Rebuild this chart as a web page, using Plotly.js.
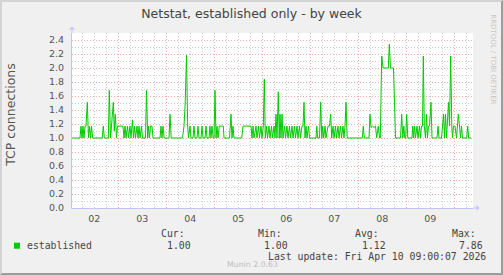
<!DOCTYPE html>
<html>
<head>
<meta charset="utf-8">
<script src="https://cdn.plot.ly/plotly-3.0.1.min.js"></script>
<style>
  html, body { margin: 0; padding: 0; background: #f0f0f0; }
  #wrap { width: 503px; height: 275px; box-sizing: border-box; border: 2px solid; border-color: #d4d4d4 #9c9c9c #9c9c9c #d4d4d4; background: #f0f0f0; }
  #chart { width: 499px; height: 271px; }
</style>
</head>
<body>
<div id="wrap"><div id="chart"></div></div>
<script>
// Hours since Apr 2 00:00 and established TCP connections
const hours = [
  1.0, 4.85, 5.35, 5.85, 6.35, 6.85, 7.35, 7.85, 8.5, 9.1, 9.6, 10.1, 10.6, 11.2,
  16.0, 16.5, 17.0, 19.0, 19.5, 20.1, 20.6, 21.5, 22.0, 22.5, 23.1, 23.6, 26.35,
  26.85, 27.35, 27.85, 28.6, 29.1, 29.85, 30.35, 31.1, 31.6, 32.1, 32.6, 33.35, 33.85,
  34.35, 34.85, 35.6, 36.1, 37.6, 38.1, 38.7, 39.1, 39.6, 40.1, 40.85, 41.35,
  44.85, 45.35, 45.85, 46.35, 46.95, 49.35, 49.85, 50.45, 56.1, 56.85, 57.45, 58.1,
  58.7, 59.1, 59.85, 60.35, 61.35, 61.85, 62.35, 63.35, 63.85, 64.35, 65.35, 65.85,
  66.35, 67.35, 67.85, 68.35, 69.35, 69.85, 70.35, 70.85, 71.45, 71.85, 72.35, 72.85,
  73.35, 73.85, 74.5, 76.5, 76.85, 79.6, 80.35, 80.85, 81.35, 81.85, 85.7, 86.35,
  90.35, 90.85, 91.35, 91.85, 92.85, 93.35, 94.1, 94.6, 95.35, 95.85, 96.5, 97.0,
  97.5, 98.1, 98.6, 99.35, 99.85, 100.6, 101.1, 101.85, 102.35, 102.85, 103.35, 104.0,
  104.45, 104.85, 105.35, 105.85, 106.35, 107.1, 107.6, 108.35, 108.85, 109.6, 110.1,
  110.85, 111.35, 112.1, 112.6, 113.35, 113.85, 114.6, 115.1, 115.85, 116.35, 116.85,
  117.35, 117.85, 118.35, 119.1, 119.6, 122.85, 123.25, 123.65, 124.6, 125.2, 125.75,
  126.2, 126.7, 127.35, 127.85, 128.85, 129.6, 130.2, 130.7, 131.35, 131.85, 132.6,
  133.1, 133.85, 134.35, 135.1, 135.6, 136.35, 136.85, 137.35, 137.85, 138.45, 146.0,
  146.5, 147.0, 149.35, 149.85, 150.35, 151.1, 151.85, 152.6, 153.2, 154.0, 154.6,
  155.0, 155.7, 156.35, 159.0, 159.5, 160.1, 161.6, 162.6, 165.1, 165.7, 166.25,
  166.75, 167.25, 167.7, 168.2, 168.75, 170.85, 171.25, 171.65, 172.1, 172.6, 173.35,
  173.85, 174.6, 175.1, 175.6, 176.1, 176.5, 177.0, 177.6, 178.1, 178.6, 179.1, 179.6,
  180.35, 180.85, 183.35, 183.85, 184.35, 185.6, 186.1, 186.6, 187.1, 187.6, 188.1,
  188.6, 189.1, 189.6, 190.2, 190.75, 191.1, 191.6, 192.35, 193.1, 193.5, 194.0, 194.6,
  195.1, 195.6, 196.1, 198.2, 198.7, 199.2, 200.35
];
const conns = [
  1.0, 1.0, 1.17, 1.0, 1.17, 1.0, 1.17, 1.17, 1.51, 1.0, 1.17, 1.0, 1.17, 1.0,
  1.0, 1.17, 1.0, 1.0, 1.68, 1.0, 1.17, 1.51, 1.1, 1.34, 1.0, 1.17, 1.17,
  1.0, 1.17, 1.0, 1.17, 1.0, 1.17, 1.0, 1.26, 1.0, 1.17, 1.0, 1.17, 1.0,
  1.17, 1.0, 1.17, 1.0, 1.0, 1.68, 1.0, 1.17, 1.0, 1.17, 1.17, 1.0,
  1.0, 1.17, 1.0, 1.17, 1.0, 1.0, 1.34, 1.0, 1.0, 1.17, 1.5, 2.18,
  1.17, 1.0, 1.17, 1.0, 1.0, 1.17, 1.0, 1.0, 1.17, 1.0, 1.0, 1.17,
  1.0, 1.0, 1.17, 1.0, 1.0, 1.17, 1.0, 1.17, 1.0, 1.0, 1.68, 1.0,
  1.17, 1.0, 1.17, 1.17, 1.0, 1.0, 1.34, 1.0, 1.17, 1.0, 1.0, 1.17,
  1.17, 1.0, 1.17, 1.0, 1.17, 1.0, 1.17, 1.0, 1.17, 1.0, 1.17, 1.84,
  1.0, 1.17, 1.0, 1.17, 1.0, 1.17, 1.0, 1.17, 1.0, 1.34, 1.0, 1.66,
  1.0, 1.34, 1.0, 1.34, 1.0, 1.17, 1.0, 1.17, 1.0, 1.17, 1.0,
  1.17, 1.0, 1.17, 1.0, 1.17, 1.0, 1.17, 1.0, 1.17, 1.17, 1.51,
  1.0, 1.17, 1.0, 1.17, 1.0, 1.0, 1.17, 1.0, 1.0, 1.51, 1.0,
  1.17, 1.0, 1.17, 1.0, 1.17, 1.17, 1.34, 1.0, 1.17, 1.0, 1.17,
  1.0, 1.17, 1.0, 1.17, 1.0, 1.17, 1.0, 1.17, 1.51, 1.0, 1.0,
  1.17, 1.0, 1.0, 1.34, 1.15, 1.17, 1.15, 1.17, 1.0, 1.17, 1.0,
  1.0, 2.17, 2.0, 2.0, 2.34, 2.0, 2.0, 1.0, 1.0, 1.34, 1.0,
  1.17, 1.0, 1.0, 1.34, 1.0, 1.0, 1.17, 1.0, 1.17, 1.0, 1.17,
  1.0, 1.17, 1.0, 1.17, 1.17, 2.17, 1.17, 1.0, 1.34, 1.0, 1.17, 1.17,
  1.51, 1.0, 1.0, 1.17, 1.0, 1.0, 1.17, 1.34, 1.0, 1.34, 1.0,
  1.34, 1.51, 1.17, 2.17, 1.17, 1.0, 1.17, 1.17, 1.0, 1.17, 1.34, 1.17,
  1.0, 1.17, 1.0, 1.0, 1.17, 1.0, 1.0
];
const dayBoundaries = [24, 48, 72, 96, 120, 144, 168, 192];
const labelHours = [12, 36, 60, 84, 108, 132, 156, 180];
const dayLabels = ['02', '03', '04', '05', '06', '07', '08', '09'];
const seriesName = 'established';
const statNames = ['Cur:', 'Min:', 'Avg:', 'Max:'];
const statValues = ['1.00', '1.00', '1.12', '7.86'];
const lastUpdate = 'Last update: Fri Apr 10 09:00:07 2026';

const xRange = [0.85, 201.35];
const yRange = [0, 2.5];

// page pixel -> paper helpers (plot area 72..473 x 33..208 on the page)
const L = 72, R = 473, T = 33, B = 208;
const xp = p => (p - L) / (R - L);
const yp = p => (B - p) / (B - T);

const axisColor = '#c4c4f4';
const majorGrid = '#f4a8a8';
const minorGrid = '#cccccc';
const tickFont = { family: 'DejaVu Sans', size: 9.5, color: '#555555' };
const mono = { family: 'DejaVu Sans Mono', size: 9.8, color: '#444444' };

const trace = {
  x: hours, y: conns, type: 'scatter', mode: 'lines',
  line: { color: '#00cc00', width: 1 },
  xaxis: 'x', yaxis: 'y', hoverinfo: 'skip', showlegend: false
};
const labelTrace = {
  x: [], y: [], type: 'scatter', mode: 'lines', xaxis: 'x2', yaxis: 'y',
  hoverinfo: 'skip', showlegend: false
};

const annotations = [
  { text: 'TCP connections', xref: 'paper', yref: 'paper', x: xp(10.8), y: yp(115),
    textangle: -90, showarrow: false, xanchor: 'center', yanchor: 'middle',
    font: { family: 'DejaVu Sans', size: 12.5, color: '#555555' }, borderpad: 0, borderwidth: 0 },
  { text: seriesName, xref: 'paper', yref: 'paper', x: xp(26.7), y: yp(245),
    showarrow: false, xanchor: 'left', yanchor: 'middle', font: mono, borderpad: 0, borderwidth: 0 },
  { text: lastUpdate, xref: 'paper', yref: 'paper', x: xp(267.7), y: yp(256.7),
    showarrow: false, xanchor: 'left', yanchor: 'middle', font: mono, borderpad: 0, borderwidth: 0 },
  { text: 'Munin 2.0.63', xref: 'paper', yref: 'paper', x: xp(252), y: yp(264.3),
    showarrow: false, xanchor: 'center', yanchor: 'middle',
    font: { family: 'DejaVu Sans', size: 7.8, color: '#bdbdbd' }, borderpad: 0, borderwidth: 0 },
  { text: 'RRDTOOL / TOBI OETIKER', xref: 'paper', yref: 'paper', x: xp(492.7), y: yp(59),
    textangle: 90, showarrow: false, xanchor: 'center', yanchor: 'middle',
    font: { family: 'DejaVu Sans', size: 7, color: '#c6c6c6' }, borderpad: 0, borderwidth: 0 },
  // axis arrows
  { text: '', xref: 'paper', yref: 'paper', x: xp(72), y: yp(26.5), ax: 0, ay: 8,
    showarrow: true, arrowhead: 1, arrowsize: 1, arrowwidth: 1, arrowcolor: axisColor, standoff: 0 },
  { text: '', xref: 'paper', yref: 'paper', x: xp(479.5), y: yp(208), ax: -8, ay: 0,
    showarrow: true, arrowhead: 1, arrowsize: 1, arrowwidth: 1, arrowcolor: axisColor, standoff: 0 }
];
const statX = [160.7, 257.7, 355, 452.3];
const valX = [166.7, 264.3, 361.7, 459];
statNames.forEach((s, i) => {
  annotations.push({ text: s, xref: 'paper', yref: 'paper', x: xp(statX[i]), y: yp(233.3),
    showarrow: false, xanchor: 'left', yanchor: 'middle', font: mono, borderpad: 0, borderwidth: 0 });
  annotations.push({ text: statValues[i], xref: 'paper', yref: 'paper', x: xp(valX[i]), y: yp(245),
    showarrow: false, xanchor: 'left', yanchor: 'middle', font: mono, borderpad: 0, borderwidth: 0 });
});

const layout = {
  width: 499, height: 271,
  margin: { l: 70, r: 28, t: 31, b: 65, pad: 0 },
  paper_bgcolor: '#f0f0f0', plot_bgcolor: '#ffffff',
  title: { text: 'Netstat, established only - by week', x: 0.5, xanchor: 'center',
    y: 1 - 12 / 271, yanchor: 'middle', yref: 'container',
    font: { family: 'DejaVu Sans', size: 12.5, color: '#444444' } },
  xaxis: {
    type: 'linear', range: xRange, autorange: false, fixedrange: true,
    tickmode: 'array', tickvals: dayBoundaries, ticktext: dayBoundaries.map(() => ''),
    showgrid: true, gridcolor: majorGrid, gridwidth: 1, griddash: '1px,2px',
    minor: { tickmode: 'linear', tick0: 0, dtick: 6, showgrid: true, gridcolor: minorGrid, gridwidth: 1, griddash: '1px,2px', ticks: '' },
    showline: true, linecolor: axisColor, linewidth: 1, zeroline: false, ticks: ''
  },
  xaxis2: {
    type: 'linear', overlaying: 'x', anchor: 'y', side: 'bottom',
    range: xRange, autorange: false, fixedrange: true,
    tickmode: 'array', tickvals: labelHours, ticktext: dayLabels,
    showgrid: false, showline: false, zeroline: false, ticks: '',
    tickfont: tickFont, ticklabelstandoff: 3
  },
  yaxis: {
    range: yRange, autorange: false, fixedrange: true,
    tickmode: 'linear', tick0: 0, dtick: 0.2, tickformat: '.1f',
    showgrid: true, gridcolor: majorGrid, gridwidth: 1, griddash: '1px,2px',
    minor: { tickmode: 'linear', tick0: 0, dtick: 0.1, showgrid: true, gridcolor: minorGrid, gridwidth: 1, griddash: '1px,2px', ticks: '' },
    showline: true, linecolor: axisColor, linewidth: 1, zeroline: false, ticks: '',
    tickfont: tickFont, ticklabelstandoff: 5
  },
  shapes: [
    { type: 'rect', xref: 'paper', yref: 'paper', x0: xp(14), x1: xp(20), y0: yp(248.7), y1: yp(242.7),
      fillcolor: '#00cc00', line: { width: 0 } }
  ],
  annotations: annotations,
  showlegend: false
};

Plotly.newPlot('chart', [trace, labelTrace], layout, { displayModeBar: false, staticPlot: true });
</script>
</body>
</html>
